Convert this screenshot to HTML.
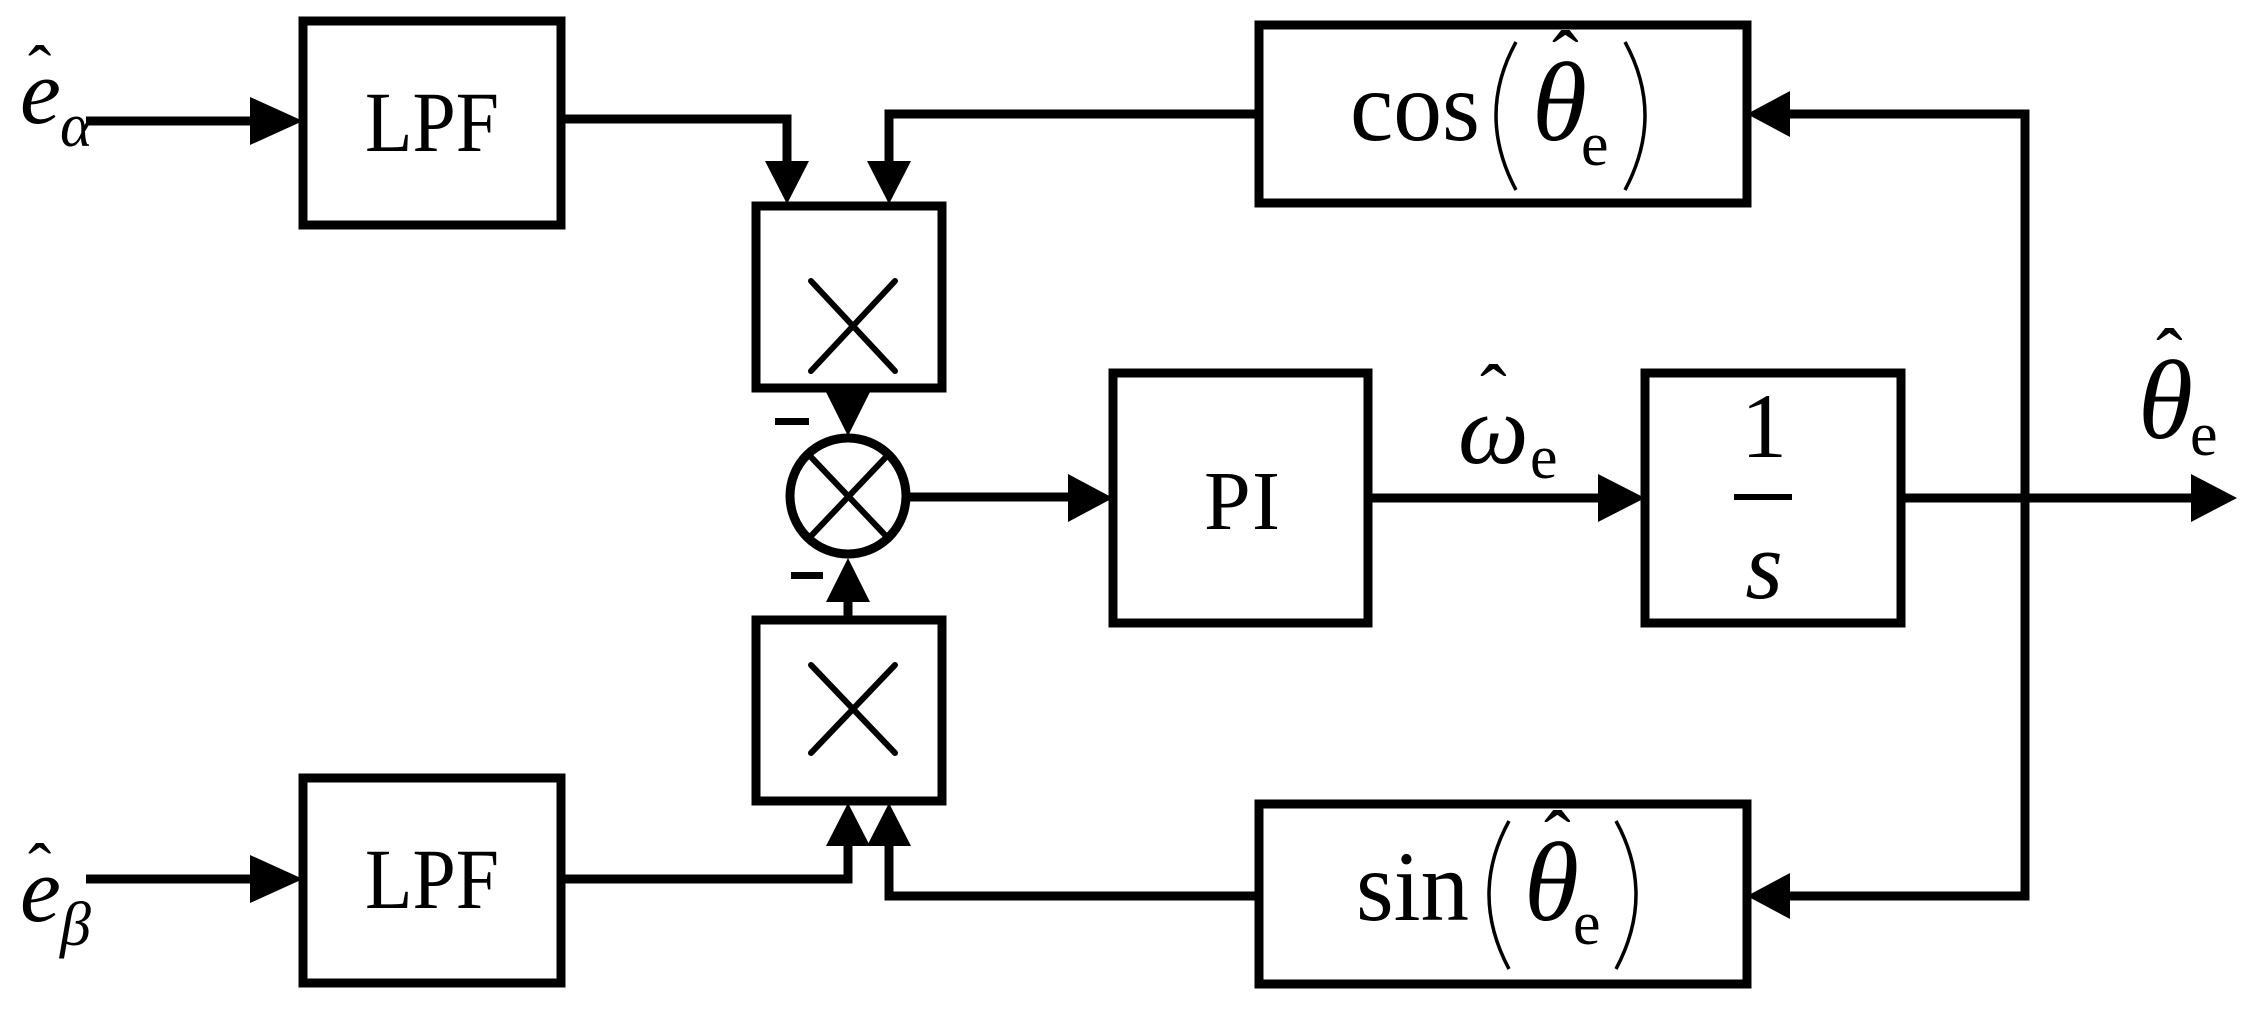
<!DOCTYPE html>
<html><head><meta charset="utf-8"><style>html,body{margin:0;padding:0;background:#fff;}svg{display:block}
text{font-family:"Liberation Serif","Times New Roman",Times,serif;}</style></head>
<body>
<svg width="2254" height="1012" viewBox="0 0 2254 1012" xmlns="http://www.w3.org/2000/svg">
<g fill="none" stroke="#000" stroke-width="9" stroke-linejoin="miter">
<rect x="303" y="21" width="258" height="204"/>
<rect x="303" y="778" width="258" height="205"/>
<rect x="756" y="206" width="186" height="182"/>
<rect x="756" y="620" width="186" height="181"/>
<rect x="1113" y="373" width="255" height="250"/>
<rect x="1645" y="373" width="256" height="250"/>
<rect x="1259" y="25" width="488" height="178"/>
<rect x="1259" y="804" width="488" height="180"/>
<circle cx="848" cy="496" r="58"/>
<polyline points="86,121 260,121"/>
<polyline points="86,879 260,879"/>
<polyline points="561,119 787,119 787,165"/>
<polyline points="1259,114 889,114 889,165"/>
<polyline points="848,388 848,395"/>
<polyline points="848,620 848,600"/>
<polyline points="561,879 848,879 848,842"/>
<polyline points="1259,896 889,896 889,842"/>
<polyline points="906,497 1072,497"/>
<polyline points="1368,498 1600,498"/>
<polyline points="1901,498 2195,498"/>
<polyline points="1790,114 2025,114 2025,896 1790,896"/>
</g>
<g stroke="#000" stroke-width="6" stroke-linecap="round">
<line x1="811" y1="281" x2="895" y2="371"/><line x1="895" y1="281" x2="811" y2="371"/>
<line x1="811" y1="665" x2="895" y2="753"/><line x1="895" y1="665" x2="811" y2="753"/>
<line x1="811" y1="457" x2="886" y2="536"/><line x1="886" y1="457" x2="811" y2="536"/>
</g>
<g fill="none" stroke="#000" stroke-width="3.5">
<path d="M1516,42 Q1476,115 1516,190"/>
<path d="M1625,42 Q1665,115 1625,190"/>
<path d="M1509,821 Q1469,894 1509,969"/>
<path d="M1616,821 Q1656,894 1616,969"/>
</g>
<g fill="#000">
<polygon points="303,121 250,97 250,145"/>
<polygon points="303,879 250,855 250,903"/>
<polygon points="787,204 765,161 809,161"/>
<polygon points="889,204 867,161 911,161"/>
<polygon points="848,436 826,392 870,392"/>
<polygon points="848,558 826,602 870,602"/>
<polygon points="848,803 826,846 870,846"/>
<polygon points="889,803 867,846 911,846"/>
<polygon points="1113,498 1068,474 1068,522"/>
<polygon points="1645,498 1598,474 1598,522"/>
<polygon points="2237,498 2191,474 2191,522"/>
<polygon points="1747,114 1790,91 1790,137"/>
<polygon points="1747,896 1790,873 1790,919"/>
<rect x="775" y="418" width="34" height="7"/>
<rect x="791" y="572" width="32" height="7"/>
<rect x="1734" y="494" width="58" height="6"/>
</g>
<g fill="#000">
<text x="432" y="151" font-size="86" text-anchor="middle" textLength="134" lengthAdjust="spacingAndGlyphs">LPF</text>
<text x="432" y="908" font-size="86" text-anchor="middle" textLength="134" lengthAdjust="spacingAndGlyphs">LPF</text>
<text x="1204" y="529" font-size="84" textLength="76" lengthAdjust="spacing">P I</text>
<text x="1764" y="457" font-size="92" text-anchor="middle">1</text>
<text x="1764" y="598" font-size="96" font-style="italic" text-anchor="middle">s</text>
<text x="20" y="123" font-size="92" font-style="italic">e</text>
<text x="28" y="94" font-size="70">ˆ</text>
<text x="60" y="146" font-size="62" font-style="italic">α</text>
<text x="20" y="921" font-size="92" font-style="italic">e</text>
<text x="28" y="892" font-size="70">ˆ</text>
<text x="60" y="945" font-size="62" font-style="italic">β</text>
<text x="1350" y="140" font-size="100" textLength="130" lengthAdjust="spacingAndGlyphs">cos</text>
<text x="1532" y="140" font-size="112" font-style="italic">θ</text>
<text x="1552" y="86" font-size="80">ˆ</text>
<text x="1581" y="165" font-size="62">e</text>
<text x="1356" y="920" font-size="100" textLength="113" lengthAdjust="spacingAndGlyphs">sin</text>
<text x="1524" y="920" font-size="112" font-style="italic">θ</text>
<text x="1544" y="866" font-size="80">ˆ</text>
<text x="1573" y="944" font-size="62">e</text>
<text x="1458" y="463" font-size="100" font-style="italic">ω</text>
<text x="1480" y="420" font-size="80">ˆ</text>
<text x="1530" y="478" font-size="62">e</text>
<text x="2138" y="438" font-size="112" font-style="italic">θ</text>
<text x="2156" y="384" font-size="80">ˆ</text>
<text x="2190" y="455" font-size="62">e</text>
</g>
</svg>
</body></html>
